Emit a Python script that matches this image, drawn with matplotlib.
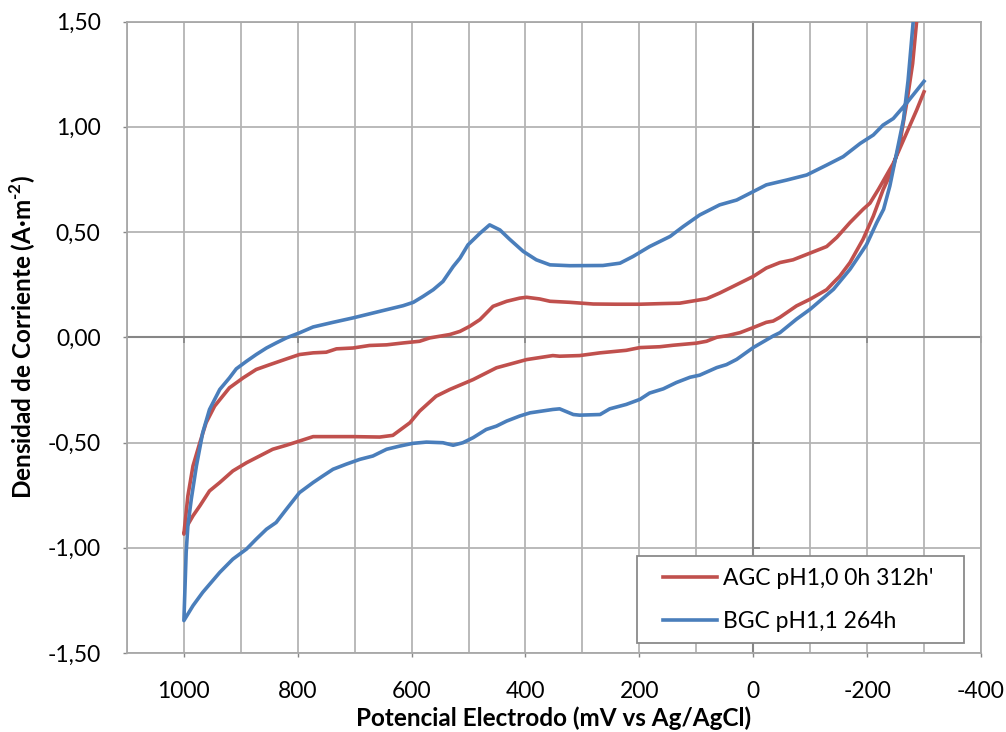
import matplotlib
matplotlib.use('Agg')
import matplotlib.pyplot as plt
from matplotlib.lines import Line2D
from matplotlib.ticker import MultipleLocator, FixedLocator, NullFormatter
from matplotlib.legend_handler import HandlerLine2D

plt.rcParams['font.family'] = ['Lato', 'DejaVu Sans']
plt.rcParams['mathtext.fontset'] = 'custom'
plt.rcParams['mathtext.rm'] = 'Lato:bold'
plt.rcParams['mathtext.bf'] = 'Lato:bold'

series_names = ["AGC pH1,0 0h 312h'", "BGC pH1,1 264h"]

# AGC: return sweep from -300 mV to 1000 mV, then forward sweep back to -300 mV
agc_potential = [
    -300, -290, -287, -280, -270, -258, -245, -228, -211, -193, -170, -152, -141,
    -129, -100, -76, -47, -35, -23, 0, 23, 45, 64, 82, 100, 141, 164, 199, 223,
    269, 305, 340, 352, 398, 451, 492, 533, 557, 586, 603, 620, 633, 656, 703,
    773, 797, 820, 844, 867, 890, 914, 937, 955, 972, 984, 996, 1000,
    993, 984, 972, 961, 946, 920, 896, 873, 849, 820, 797, 773, 750, 732, 703,
    674, 644, 615, 586, 568, 533, 515, 498, 480, 457, 433, 410, 398, 375, 357,
    322, 281, 241, 199, 160, 129, 100, 82, 59, 35, 0, -23, -47, -70, -100, -129,
    -147, -170, -193, -205, -220, -246, -269, -287, -300,
]
agc_current = [
    2.10, 1.68, 1.50, 1.30, 1.12, 0.93, 0.80, 0.70, 0.576, 0.466, 0.355, 0.29, 0.26,
    0.226, 0.181, 0.149, 0.095, 0.077, 0.071, 0.046, 0.022, 0.008, 0.0, -0.019,
    -0.028, -0.038, -0.045, -0.049, -0.062, -0.074, -0.087, -0.090, -0.087, -0.106,
    -0.145, -0.201, -0.248, -0.280, -0.351, -0.406, -0.44, -0.466, -0.474, -0.472,
    -0.472, -0.493, -0.513, -0.532, -0.564, -0.596, -0.635, -0.690, -0.730, -0.801,
    -0.848, -0.904, -0.935,
    -0.754, -0.611, -0.501, -0.406, -0.327, -0.240, -0.193, -0.153, -0.130, -0.103,
    -0.082, -0.074, -0.071, -0.055, -0.051, -0.039, -0.036, -0.027, -0.019, -0.003,
    0.013, 0.028, 0.052, 0.084, 0.147, 0.171, 0.186, 0.190, 0.182, 0.171, 0.166,
    0.158, 0.157, 0.157, 0.160, 0.162, 0.175, 0.183, 0.210, 0.242, 0.289, 0.329,
    0.355, 0.368, 0.400, 0.431, 0.475, 0.545, 0.608, 0.637, 0.703, 0.826, 0.968,
    1.079, 1.166,
]

# BGC: same sweep order
bgc_potential = [
    -300, -290, -281, -272, -264, -252, -240, -229, -217, -199, -182, -170, -141,
    -100, -76, -47, -35, 0, 29, 47, 64, 94, 111, 135, 158, 182, 199, 223, 252,
    269, 305, 316, 340, 352, 392, 410, 433, 451, 469, 492, 510, 527, 545, 574,
    598, 621, 644, 668, 691, 715, 738, 756, 773, 797, 820, 838, 855, 873, 890,
    914, 937, 967, 984, 1000,
    996, 993, 987, 978, 967, 955, 937, 920, 908, 890, 873, 855, 838, 820, 797,
    773, 738, 703, 644, 615, 597, 580, 562, 545, 527, 515, 501, 480, 463, 445,
    428, 404, 381, 357, 322, 264, 234, 211, 182, 146, 123, 94, 59, 29, 0, -23,
    -59, -94, -129, -158, -188, -211, -228, -246, -269, -300,
]
bgc_current = [
    2.30, 1.85, 1.50, 1.22, 1.036, 0.877, 0.719, 0.608, 0.545, 0.44, 0.371, 0.323,
    0.228, 0.133, 0.086, 0.022, 0.006, -0.049, -0.105, -0.13, -0.144, -0.180,
    -0.190, -0.215, -0.245, -0.265, -0.295, -0.319, -0.340, -0.367, -0.370, -0.367,
    -0.340, -0.343, -0.359, -0.374, -0.398, -0.422, -0.438, -0.477, -0.501, -0.513,
    -0.501, -0.498, -0.504, -0.517, -0.532, -0.564, -0.580, -0.603, -0.627, -0.659,
    -0.690, -0.738, -0.817, -0.880, -0.912, -0.959, -1.006, -1.054, -1.117, -1.212,
    -1.275, -1.346,
    -1.022, -0.896, -0.769, -0.611, -0.454, -0.343, -0.248, -0.193, -0.150, -0.114,
    -0.082, -0.051, -0.027, -0.003, 0.021, 0.049, 0.071, 0.092, 0.131, 0.150, 0.166,
    0.194, 0.226, 0.265, 0.336, 0.376, 0.439, 0.494, 0.534, 0.510, 0.466, 0.408,
    0.368, 0.344, 0.340, 0.341, 0.352, 0.384, 0.431, 0.479, 0.526, 0.581, 0.629,
    0.652, 0.692, 0.724, 0.747, 0.771, 0.818, 0.858, 0.921, 0.961, 1.008, 1.039,
    1.111, 1.216,
]

x_ticks = [1000, 800, 600, 400, 200, 0, -200, -400]
x_tick_labels = ['1000', '800', '600', '400', '200', '0', '-200', '-400']
y_ticks = [-1.5, -1.0, -0.5, 0.0, 0.5, 1.0, 1.5]
y_tick_labels = ['-1,50', '-1,00', '-0,50', '0,00', '0,50', '1,00', '1,50']

RED = '#c0504d'
BLUE = '#4a7ebb'
GRID = '#b4b4b4'
AXIS = '#868686'

fig = plt.figure(figsize=(10.06, 7.32), dpi=100)
ax = fig.add_axes([0.1262, 0.1079, 0.8489, 0.8627])

red_line, = ax.plot(agc_potential, agc_current, color=RED, lw=2.6,
                    label=series_names[0], zorder=3)
blue_line, = ax.plot(bgc_potential, bgc_current, color=BLUE, lw=2.6,
                     label=series_names[1], zorder=4)

ax.set_xlim(1100, -400)
ax.set_ylim(-1.5, 1.5)
ax.set_xticks(x_ticks, x_tick_labels)
ax.set_yticks(y_ticks, y_tick_labels)
ax.xaxis.set_minor_locator(MultipleLocator(100))
ax.set_axisbelow(True)
ax.grid(True, which='both', axis='x', color=GRID, lw=1.3)
ax.grid(True, which='major', axis='y', color=GRID, lw=1.3)
ax.tick_params(which='minor', length=0)
ax.tick_params(which='major', length=3, width=1, color=AXIS, labelsize=16.5,
               labelcolor='black')
ax.tick_params(axis='x', which='major', pad=17)
ax.tick_params(axis='y', which='major', pad=16)
for s in ax.spines.values():
    s.set_color('#a8a8a8')
    s.set_linewidth(1.3)

# axis lines crossing at the origin
sec_x = ax.secondary_xaxis(0, transform=ax.transData)
sec_x.set_alignment('bottom')
sec_x.xaxis.set_major_locator(FixedLocator(x_ticks))
sec_x.xaxis.set_major_formatter(NullFormatter())
sec_x.tick_params(direction='out', length=4, width=1.2, color=AXIS)
sec_x.spines['bottom'].set_color(AXIS)
sec_x.spines['bottom'].set_linewidth(1.5)
sec_x.patch.set_visible(False)
sec_x.set_zorder(1)

sec_y = ax.secondary_yaxis(0, transform=ax.transData)
sec_y.set_alignment('right')
sec_y.yaxis.set_major_locator(FixedLocator(y_ticks))
sec_y.yaxis.set_major_formatter(NullFormatter())
sec_y.tick_params(direction='out', length=5, width=1.2, color=AXIS)
sec_y.spines['right'].set_color(AXIS)
sec_y.spines['right'].set_linewidth(1.5)
sec_y.patch.set_visible(False)
sec_y.set_zorder(1)

ax.set_xlabel('Potencial Electrodo (mV vs Ag/AgCl)', fontsize=17.5,
              fontweight='bold', labelpad=3)
ax.set_ylabel(r'Densidad de Corriente (A·m$^{\text{-}\mathbf{2}}$)', fontsize=17.5,
              fontweight='bold', labelpad=7)

handler = HandlerLine2D(xpad=0.65)
leg = ax.legend(handles=[red_line, blue_line], loc='lower left',
                bbox_to_anchor=(0.597, 0.0158, 0.383, 0.158), mode='expand',
                borderaxespad=0, fontsize=16.5, frameon=True, fancybox=False,
                edgecolor='#8a8a8a', framealpha=1, borderpad=0.5,
                labelspacing=0.95, handlelength=3.0, handletextpad=0.25,
                handler_map={Line2D: handler})
leg.get_frame().set_linewidth(1.3)
leg.set_zorder(6)

fig.savefig('out.png', dpi=100)
